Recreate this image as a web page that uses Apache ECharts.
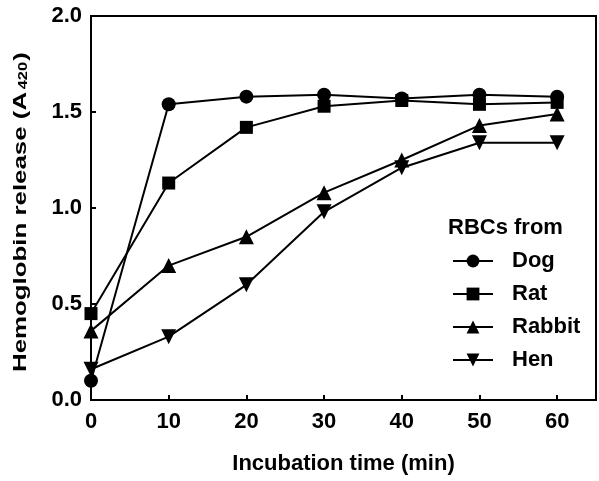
<!DOCTYPE html>
<html>
<head>
<meta charset="utf-8">
<script src="https://cdn.jsdelivr.net/npm/echarts@6/dist/echarts.min.js"></script>
<style>
  html, body { margin: 0; padding: 0; background: #fff; }
  #chart { width: 599px; height: 481px; }
</style>
</head>
<body>
<div id="chart"></div>
<script>
// Incubation time points (min)
const times = [0, 10, 20, 30, 40, 50, 60];

// Hemoglobin release (A420) for red blood cells from each species
const dog    = [0.10, 1.54, 1.58, 1.59, 1.57, 1.59, 1.58];
const rat    = [0.45, 1.13, 1.42, 1.53, 1.56, 1.54, 1.55];
const rabbit = [0.36, 0.70, 0.85, 1.08, 1.25, 1.43, 1.49];
const hen    = [0.16, 0.33, 0.60, 0.98, 1.21, 1.34, 1.34];

const xTickLabels = [0, 10, 20, 30, 40, 50, 60];
const yTickLabels = ['0.0', '0.5', '1.0', '1.5', '2.0'];

const FONT = '"Liberation Sans", Arial, sans-serif';
const downTriangle = 'path://M0,0 L10,0 L5,9 Z';

function pairs(ys) {
  return times.map((t, i) => [t, ys[i]]);
}

function makeSeries(name, ys, symbol, size) {
  return {
    name: name,
    type: 'line',
    data: pairs(ys),
    symbol: symbol,
    symbolSize: size,
    showAllSymbol: true,
    lineStyle: { color: '#000', width: 2 },
    itemStyle: { color: '#000', borderWidth: 0 },
    emphasis: { disabled: true },
    animation: false
  };
}

const chart = echarts.init(document.getElementById('chart'), null, { renderer: 'canvas' });

chart.setOption({
  backgroundColor: '#fff',
  animation: false,
  grid: {
    left: 91, right: 2, top: 16, bottom: 81,
    show: true, borderColor: '#000', borderWidth: 2, backgroundColor: 'transparent'
  },
  title: {
    text: 'RBCs from',
    left: 443, top: 212,
    textStyle: { fontFamily: FONT, fontSize: 22, fontWeight: 'bold', color: '#000' }
  },
  legend: {
    orient: 'vertical',
    left: 447, top: 245,
    itemWidth: 40, itemHeight: 16,
    itemGap: 11,
    selectedMode: false,
    textStyle: {
      fontFamily: FONT, fontSize: 22, fontWeight: 'bold', color: '#000',
      lineHeight: 22, padding: [0, 0, 0, 14]
    },
    data: ['Dog', 'Rat', 'Rabbit', 'Hen']
  },
  xAxis: {
    type: 'value',
    min: 0, max: 65, interval: 10,
    axisLine: { show: true, lineStyle: { color: '#000', width: 2 } },
    axisTick: { show: true, inside: true, length: 5, lineStyle: { color: '#000', width: 2 } },
    axisLabel: {
      margin: 11,
      fontFamily: FONT, fontSize: 22, fontWeight: 'bold', color: '#000',
      formatter: v => (xTickLabels.includes(v) ? String(v) : '')
    },
    splitLine: { show: false },
    name: 'Incubation time (min)',
    nameLocation: 'middle',
    nameGap: 53,
    nameTextStyle: { fontFamily: FONT, fontSize: 22, fontWeight: 'bold', color: '#000' }
  },
  yAxis: {
    type: 'value',
    min: 0, max: 2, interval: 0.5,
    axisLine: { show: true, lineStyle: { color: '#000', width: 2 } },
    axisTick: { show: true, inside: true, length: 5, lineStyle: { color: '#000', width: 2 } },
    axisLabel: {
      margin: 9,
      fontFamily: FONT, fontSize: 22, fontWeight: 'bold', color: '#000',
      formatter: v => yTickLabels[Math.round(v / 0.5)]
    },
    splitLine: { show: false }
  },
  graphic: [{
    type: 'text',
    x: 21, y: 212,
    rotation: Math.PI / 2,
    scaleX: 1.36, scaleY: 1,
    silent: true,
    style: {
      text: 'Hemoglobin release (A{sub|420})',
      fill: '#000',
      font: 'bold 19px ' + FONT,
      align: 'center',
      verticalAlign: 'middle',
      rich: {
        sub: { fontSize: 12, fontWeight: 'bold', fontFamily: FONT, fill: '#000', padding: [6, 1, 0, 2] }
      }
    }
  }],
  series: [
    makeSeries('Dog', dog, 'circle', 14),
    makeSeries('Rat', rat, 'rect', 13),
    makeSeries('Rabbit', rabbit, 'triangle', 15),
    makeSeries('Hen', hen, downTriangle, 15)
  ]
});
</script>
</body>
</html>
